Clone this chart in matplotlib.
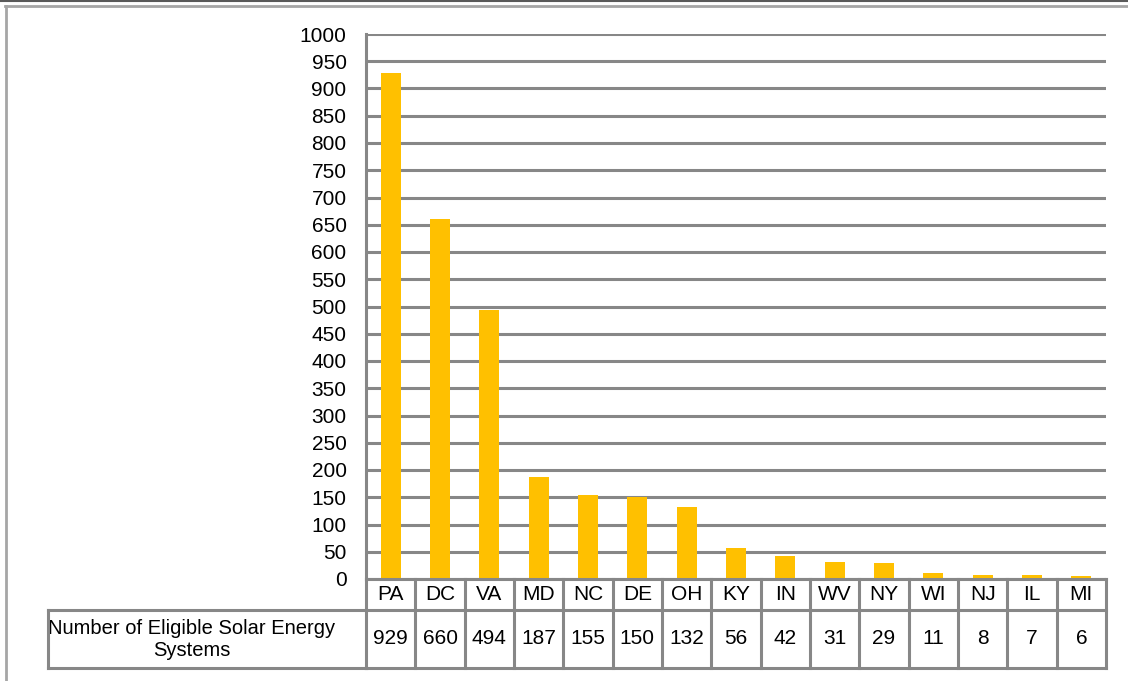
import matplotlib.pyplot as plt
import matplotlib.transforms as mtransforms
from matplotlib.lines import Line2D
import numpy as np

plt.rcParams['font.family'] = ['Liberation Sans', 'DejaVu Sans']

states = ['PA', 'DC', 'VA', 'MD', 'NC', 'DE', 'OH', 'KY', 'IN', 'WV', 'NY', 'WI', 'NJ', 'IL', 'MI']
systems = [929, 660, 494, 187, 155, 150, 132, 56, 42, 31, 29, 11, 8, 7, 6]
row_label = 'Number of Eligible Solar Energy\nSystems'

grid_color = '#878787'
bar_color = '#FFC000'
lw = 2.2
fs = 15

fig = plt.figure(figsize=(11.28, 6.81), dpi=100)
W, H = 1128, 681

# plot area in pixels: x 366..1106, y 34..579
ax = fig.add_axes([366 / W, 1 - 579 / H, 740 / W, 545 / H])
x = np.arange(len(states))
ax.bar(x, systems, width=0.41, color=bar_color, zorder=3)
ax.set_xlim(-0.5, len(states) - 0.5)
ax.set_ylim(0, 1000)
ax.set_yticks(np.arange(0, 1001, 50))
ax.set_xticks([])
ax.tick_params(axis='y', length=0, pad=14, labelsize=fs)
ax.grid(axis='y', color=grid_color, linewidth=lw, zorder=1)
for s in ['top', 'right', 'bottom']:
    ax.spines[s].set_visible(False)
ax.spines['left'].set_color(grid_color)
ax.spines['left'].set_linewidth(lw)
ax.set_axisbelow(True)

# data table under the axis
blend = mtransforms.blended_transform_factory(ax.transData, ax.transAxes)
r1 = (579 - 610) / 545   # bottom of category row
r2 = (579 - 668) / 545   # bottom of value row
lab_left = (48 - 366) / 740

def tline(xs, ys, tr):
    ax.add_line(Line2D(xs, ys, transform=tr, color=grid_color, linewidth=lw,
                       clip_on=False, zorder=4, solid_capstyle='projecting'))

n = len(states)
tline([-0.5, n - 0.5], [0, 0], blend)
tline([-0.5, n - 0.5], [r1, r1], blend)
tline([-0.5, n - 0.5], [r2, r2], blend)
for b in np.arange(n + 1) - 0.5:
    tline([b, b], [0, r2], blend)
tline([lab_left, 0], [r1, r1], ax.transAxes)
tline([lab_left, 0], [r2, r2], ax.transAxes)
tline([lab_left, lab_left], [r1, r2], ax.transAxes)

for i, (st, v) in enumerate(zip(states, systems)):
    ax.text(i, r1 / 2, st, transform=blend, ha='center', va='center', fontsize=fs)
    ax.text(i, (r1 + r2) / 2, str(v), transform=blend, ha='center', va='center', fontsize=fs)
ax.text((192 - 366) / 740, (579 - 640) / 545, row_label, transform=ax.transAxes,
        ha='center', va='center', fontsize=14.5, linespacing=1.2)

# chart frame
px = fig.transFigure
fig.add_artist(Line2D([0, 1], [1 - 0.8 / H, 1 - 0.8 / H], transform=px, color='#5a5a5a', linewidth=1.5))
fig.add_artist(Line2D([5 / W, 1], [1 - 5.5 / H, 1 - 5.5 / H], transform=px, color='#a6a6a6', linewidth=2))
fig.add_artist(Line2D([5.5 / W, 5.5 / W], [0, 1 - 5.5 / H], transform=px, color='#a6a6a6', linewidth=2))

fig.savefig('out.png', dpi=100)
